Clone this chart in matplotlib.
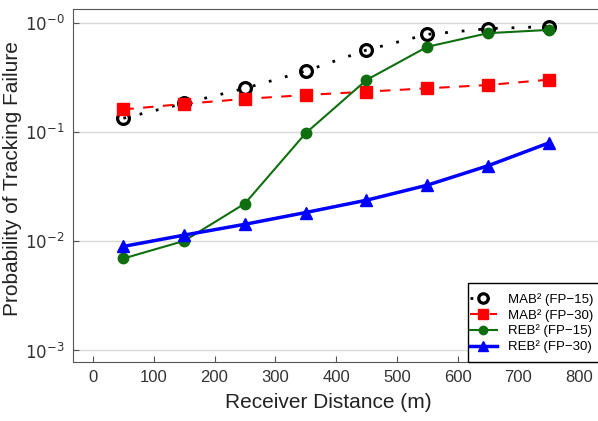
import matplotlib
matplotlib.use('Agg')
import numpy as np
import matplotlib.pyplot as plt
from matplotlib.patches import Rectangle
from matplotlib.ticker import FixedLocator, FuncFormatter, NullLocator

plt.rcParams['font.family'] = ['Liberation Sans', 'DejaVu Sans']

distance = [50, 150, 250, 350, 450, 550, 650, 750]
mab_fp15 = [0.133, 0.182, 0.25, 0.36, 0.56, 0.78, 0.88, 0.92]
mab_fp30 = [0.16, 0.18, 0.20, 0.217, 0.233, 0.25, 0.268, 0.30]
reb_fp15 = [0.0069, 0.0100, 0.022, 0.097, 0.298, 0.60, 0.80, 0.857]
reb_fp30 = [0.0089, 0.0113, 0.0142, 0.0182, 0.0236, 0.0324, 0.0488, 0.079]
labels = ['MAB² (FP\u221215)', 'MAB² (FP\u221230)', 'REB² (FP\u221215)', 'REB² (FP\u221230)']
y_ticks = [1e-3, 1e-2, 1e-1, 1e0]
x_ticks = [0, 100, 200, 300, 400, 500, 600, 700, 800]


def fmt_y(value, pos):
    exp = int(round(np.log10(value)))
    return r'$10^{-%d}$' % abs(exp)


fig = plt.figure(figsize=(5.98, 4.21), dpi=100)
ax = fig.add_axes([0.122, 0.140, 0.878, 0.839])

ax.plot(distance, mab_fp15, linestyle=':', color='black', lw=2, marker='o',
        mfc='none', mec='black', mew=2.3, ms=8.5, dashes=(1, 5), label=labels[0])
ax.plot(distance, mab_fp30, linestyle='--', color='#ff0000', lw=1.5, marker='s',
        mfc='#ff0000', mec='#ff0000', ms=8.5, dashes=(5, 4.5), label=labels[1])
ax.plot(distance, reb_fp15, linestyle='-', color='#0f6e0f', lw=1.5, marker='o',
        mfc='#0f6e0f', mec='#0f6e0f', ms=7.5, label=labels[2])
ax.plot(distance, reb_fp30, linestyle='-', color='#0000ff', lw=2.5, marker='^',
        mfc='#0000ff', mec='#0000ff', ms=9, label=labels[3])

ax.set_yscale('log')
ax.set_ylim(10 ** -3.11, 10 ** 0.126)
ax.set_xlim(-33, 831)
ax.yaxis.set_major_locator(FixedLocator(y_ticks))
ax.yaxis.set_minor_locator(NullLocator())
ax.yaxis.set_major_formatter(FuncFormatter(fmt_y))
ax.set_xticks(x_ticks)

ax.grid(True, axis='y', color='#d9d9d9', lw=1)
ax.set_axisbelow(True)
ax.tick_params(direction='in', length=4, labelsize=12, colors='#555555')
ax.tick_params(axis='y', pad=6, labelcolor='#333333')
ax.tick_params(axis='x', pad=6, labelcolor='#333333')
for side in ['top', 'left', 'bottom']:
    ax.spines[side].set_color('#555555')
ax.spines['right'].set_visible(False)

ax.set_xlabel('Receiver Distance (m)', fontsize=15, color='#222222')
ax.set_ylabel('Probability of Tracking Failure', fontsize=15, color='#222222')
ax.xaxis.set_label_coords(0.487, -0.088)
ax.yaxis.set_label_coords(-0.097, 0.52)

# legend frame drawn separately (tight left side, taller box like the original)
ax.add_patch(Rectangle((0.752, 0), 0.3, 0.224, transform=ax.transAxes,
                       facecolor='white', edgecolor='black', lw=1,
                       zorder=4, clip_on=False))
leg = ax.legend(loc='center left', bbox_to_anchor=(0.756, 0.110), borderaxespad=0,
                fontsize=9.5, frameon=False, handlelength=2.05,
                handletextpad=0.83, labelspacing=0.22, borderpad=0,
                markerscale=0.8)

fig.savefig('out.png', dpi=100)
